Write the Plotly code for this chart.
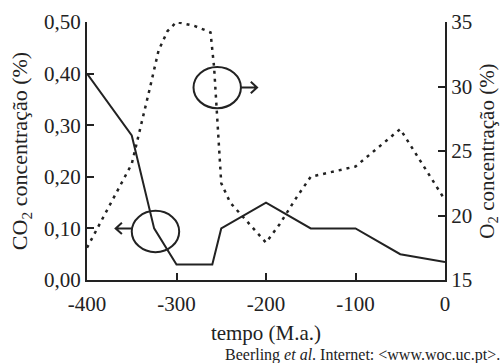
import plotly.graph_objects as go

# CO2 (%) solid line
co2_t = [-400, -350, -325, -300, -260, -250, -200, -150, -100, -50, 0]
co2_v = [0.40, 0.28, 0.10, 0.03, 0.03, 0.10, 0.15, 0.10, 0.10, 0.05, 0.035]

# O2 (%) dotted line
o2_t = [-400, -350, -330, -320, -310, -300, -280, -262, -258, -250, -240, -200,
        -185, -165, -150, -100, -50, 0]
o2_v = [17.5, 24.0, 29.8, 32.8, 34.3, 35.0, 34.7, 34.2, 31.5, 22.5, 21.0, 17.9,
        19.3, 21.5, 23.0, 23.8, 26.7, 21.2]

x_ticks = [-400, -300, -200, -100, 0]
x_ticktext = ["-400", "-300", "-200", "-100", "0"]
co2_ticks = [0.0, 0.1, 0.2, 0.3, 0.4, 0.5]
co2_ticktext = ["0,00", "0,10", "0,20", "0,30", "0,40", "0,50"]
o2_ticks = [15, 20, 25, 30, 35]

FONT = "Liberation Serif"
INK = "#222222"

fig = go.Figure()
fig.add_trace(go.Scatter(x=co2_t, y=co2_v, mode="lines",
                         line=dict(color=INK, width=2), yaxis="y"))
fig.add_trace(go.Scatter(x=o2_t, y=o2_v, mode="lines",
                         line=dict(color=INK, width=2.5, dash="3px,5px"), yaxis="y2"))

axis_common = dict(showline=True, linecolor=INK, linewidth=2, ticks="inside",
                   ticklen=7, tickwidth=2, tickcolor=INK, showgrid=False,
                   zeroline=False, automargin=False,
                   tickfont=dict(family=FONT, size=21, color=INK))

fig.update_layout(
    width=504, height=363,
    margin=dict(l=87, r=59, t=22, b=83, autoexpand=False),
    plot_bgcolor="white", paper_bgcolor="white",
    showlegend=False,
    font=dict(family=FONT, color=INK),
    xaxis=dict(range=[-400, 0], tickvals=x_ticks, ticktext=x_ticktext,
               ticklabelstandoff=4,
               title=dict(text="tempo (M.a.)", font=dict(family=FONT, size=21, color=INK), standoff=10),
               **axis_common),
    yaxis=dict(range=[0, 0.5], tickvals=co2_ticks, ticktext=co2_ticktext,
               title=dict(text="CO<sub>2</sub> concentração (%)", font=dict(family=FONT, size=22, color=INK), standoff=10),
               **axis_common),
    yaxis2=dict(range=[15, 35], tickvals=o2_ticks, overlaying="y", side="right",
                title=dict(text="O<sub>2</sub> concentração (%)", font=dict(family=FONT, size=21, color=INK), standoff=8),
                **axis_common),
)

# ellipses + arrows marking which axis each curve belongs to
fig.add_shape(type="circle", xref="x", yref="y", x0=-350, x1=-297, y0=0.054, y1=0.134,
              line=dict(color=INK, width=2))
fig.add_shape(type="circle", xref="x", yref="y", x0=-281, x1=-228, y0=0.333, y1=0.413,
              line=dict(color=INK, width=2))
fig.add_shape(type="path", xref="x", yref="y",
              path="M -350,0.10 L -368,0.10 M -361,0.111 L -368,0.10 L -361,0.089",
              line=dict(color=INK, width=2))
fig.add_shape(type="path", xref="x", yref="y",
              path="M -228,0.373 L -210,0.373 M -217,0.384 L -210,0.373 L -217,0.362",
              line=dict(color=INK, width=2))

fig.add_annotation(x=1.1592, y=-0.292, xref="paper", yref="paper", xanchor="right", yanchor="middle",
                   showarrow=False, text="Beerling <i>et al</i>. Internet: &lt;www.woc.uc.pt&gt;.",
                   font=dict(family=FONT, size=16, color=INK))

fig.write_html("out.html")
